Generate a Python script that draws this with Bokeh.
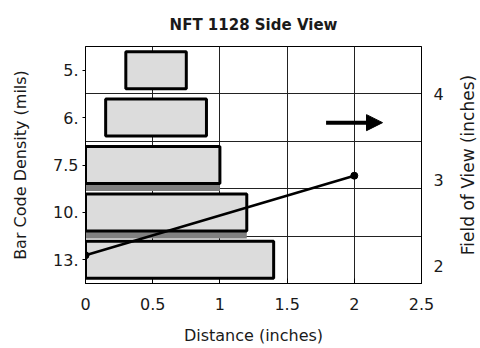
from bokeh.plotting import figure
from bokeh.models import (Range1d, LinearAxis, FixedTicker, Arrow, NormalHead)
from bokeh.layouts import row
from bokeh.embed import file_html
from bokeh.resources import INLINE

# ---- data ----
categories = ["5.", "6.", "7.5", "10.", "13."]          # bar code density (mils), top to bottom
bar_start = [0.3, 0.15, 0.0, 0.0, 0.0]                  # distance (inches)
bar_end = [0.75, 0.9, 1.0, 1.2, 1.4]
shadowed = ["7.5", "10."]                                # bars showing a dark lower edge
line_x = [0.0, 2.0]                                      # distance (inches)
line_fov = [2.12, 3.05]                                  # field of view (inches)
x_ticks = [0, 0.5, 1, 1.5, 2, 2.5]
fov_ticks = [2, 3, 4]
arrow_x = [1.79, 2.21]
arrow_fov = 3.67

FONT = "DejaVu Sans"
TXT = "#1a1a1a"

n = len(categories)
centers = [n - 0.5 - i for i in range(n)]
bar_h = 0.78

p = figure(width=452, height=348, output_backend="svg", toolbar_location=None,
           x_range=Range1d(0, 2.5), y_range=Range1d(0, n),
           title="NFT 1128 Side View",
           min_border_left=85, min_border_right=31, min_border_top=46, min_border_bottom=65)
p.extra_y_ranges = {"fov": Range1d(1.79, 4.56)}

p.title.text_font = FONT
p.title.text_font_size = "15px"
p.title.text_font_style = "bold"
p.title.text_color = TXT
p.title.align = "center"
p.title.standoff = 26

p.outline_line_color = "black"
p.outline_line_width = 1
p.background_fill_color = "white"
p.border_fill_color = "white"

# axes
xa = p.xaxis[0]
xa.ticker = FixedTicker(ticks=x_ticks)
xa.major_label_overrides = {0: "0", 0.5: "0.5", 1: "1", 1.5: "1.5", 2: "2", 2.5: "2.5"}
xa.axis_label = "Distance (inches)"
xa.major_tick_in = 5
xa.major_tick_out = 0
xa.minor_tick_line_color = None
xa.major_label_standoff = 14
xa.axis_label_standoff = 13

ya = p.yaxis[0]
ya.ticker = FixedTicker(ticks=centers)
ya.major_label_overrides = {c: lab for c, lab in zip(centers, categories)}
ya.axis_label = "Bar Code Density (mils)"
ya.major_tick_in = 0
ya.major_tick_out = 3
ya.minor_tick_line_color = None
ya.major_label_standoff = 4
ya.axis_label_standoff = 20

ra = LinearAxis(y_range_name="fov", ticker=FixedTicker(ticks=fov_ticks))
ra.major_tick_in = 0
ra.major_tick_out = 0
ra.minor_tick_line_color = None
ra.major_label_standoff = 12
p.add_layout(ra, "right")

for ax in (xa, ya, ra):
    ax.axis_line_color = "black"
    ax.major_tick_line_color = "black"
    ax.major_label_text_font = FONT
    ax.major_label_text_font_size = "16px"
    ax.major_label_text_color = TXT
    ax.axis_label_text_font = FONT
    ax.axis_label_text_font_size = "16px"
    ax.axis_label_text_font_style = "normal"
    ax.axis_label_text_color = TXT

# grids
p.xgrid.ticker = FixedTicker(ticks=x_ticks)
p.xgrid.grid_line_color = "#222222"
p.ygrid.ticker = FixedTicker(ticks=list(range(1, n)))
p.ygrid.grid_line_color = "#222222"

# dark lower edge under some bars
sh_y = [c - bar_h / 2 - 0.08 for c, lab in zip(centers, categories) if lab in shadowed]
sh_l = [s for s, lab in zip(bar_start, categories) if lab in shadowed]
sh_r = [e for e, lab in zip(bar_end, categories) if lab in shadowed]
p.hbar(y=sh_y, left=sh_l, right=sh_r, height=0.16, fill_color="#808080", line_color=None)

# bars
p.hbar(y=centers, left=bar_start, right=bar_end, height=bar_h,
       fill_color="#dcdcdc", line_color="black", line_width=3)

# field of view line
p.line(x=line_x, y=line_fov, y_range_name="fov", line_color="black", line_width=2.5)
p.scatter(x=line_x, y=line_fov, y_range_name="fov", size=7, fill_color="black", line_color="black")

# arrow
p.add_layout(Arrow(x_start=arrow_x[0], x_end=arrow_x[1], y_start=arrow_fov, y_end=arrow_fov,
                   y_range_name="fov", line_width=4, line_color="black",
                   end=NormalHead(size=16, fill_color="black", line_color="black")))

# narrow companion figure carrying the right-hand title (reads bottom-to-top)
p2 = figure(width=28, height=348, output_backend="svg", toolbar_location=None,
            x_range=Range1d(0, 1), y_range=Range1d(0, 1), x_axis_location=None,
            min_border_left=25, min_border_right=0, min_border_top=46, min_border_bottom=65)
p2.outline_line_color = None
p2.grid.visible = False
p2.background_fill_color = "white"
p2.border_fill_color = "white"
ay2 = p2.yaxis[0]
ay2.ticker = FixedTicker(ticks=[])
ay2.axis_line_color = None
ay2.major_tick_line_color = None
ay2.minor_tick_line_color = None
ay2.major_label_text_font_size = "0px"
ay2.major_label_standoff = 0
ay2.axis_label = "Field of View (inches)"
ay2.axis_label_standoff = 0
ay2.axis_label_text_font = FONT
ay2.axis_label_text_font_size = "17px"
ay2.axis_label_text_font_style = "normal"
ay2.axis_label_text_color = TXT

layout = row(p, p2, spacing=0)
open("out.html", "w").write(file_html(layout, INLINE))
